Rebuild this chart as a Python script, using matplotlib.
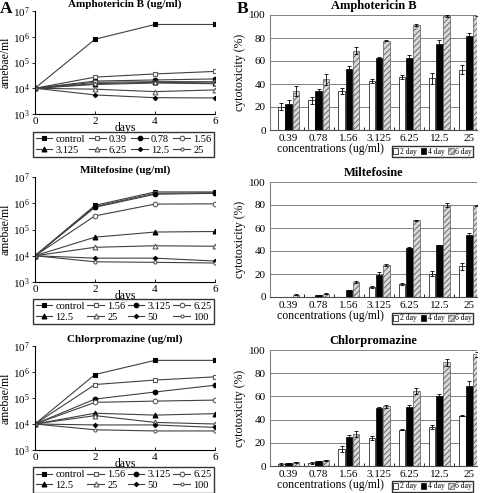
import numpy as np
import matplotlib
matplotlib.use("Agg")
import matplotlib.pyplot as plt
from matplotlib.ticker import FixedLocator, LogFormatterSciNotation

plt.rcParams['font.family'] = ['Liberation Serif', 'DejaVu Serif']
plt.rcParams['mathtext.fontset'] = 'stix'
plt.rcParams['hatch.linewidth'] = 0.6

days = [0, 2, 4, 6]

# Panel A: amebae/ml over days
ampho_labels = ['control', '0.39', '0.78', '1.56', '3.125', '6.25', '12.5', '25']
ampho_growth = [
    [1e4, 8e5, 3e6, 3e6],
    [1e4, 2.7e4, 3.6e4, 4.5e4],
    [1e4, 1.9e4, 2.1e4, 2.3e4],
    [1e4, 1.7e4, 1.8e4, 1.8e4],
    [1e4, 1.5e4, 1.7e4, 1.6e4],
    [1e4, 9.2e3, 7.4e3, 8.6e3],
    [1e4, 5.5e3, 4.3e3, 4.2e3],
    [1e4, 1.4e4, 1.6e4, 1.5e4],
]
milte_labels = ['control', '1.56', '3.125', '6.25', '12.5', '25', '50', '100']
milte_growth = [
    [1e4, 8.3e5, 2.7e6, 2.7e6],
    [1e4, 7.5e5, 2.4e6, 2.5e6],
    [1e4, 7.0e5, 2.2e6, 2.4e6],
    [1e4, 3.3e5, 9.3e5, 9.5e5],
    [1e4, 5.1e4, 8.0e4, 8.4e4],
    [1e4, 2.1e4, 2.4e4, 2.3e4],
    [1e4, 8.1e3, 8.1e3, 6.3e3],
    [1e4, 5.9e3, 5.6e3, 5.3e3],
]
chlor_labels = ['control', '1.56', '3.125', '6.25', '12.5', '25', '50', '100']
chlor_growth = [
    [1e4, 8.0e5, 2.8e6, 2.8e6],
    [1e4, 3.3e5, 4.9e5, 6.5e5],
    [1e4, 9.1e4, 1.7e5, 3.1e5],
    [1e4, 6.8e4, 7.6e4, 8.3e4],
    [1e4, 2.6e4, 2.2e4, 2.5e4],
    [1e4, 2.1e4, 1.15e4, 1.0e4],
    [1e4, 9.2e3, 9.2e3, 7.4e3],
    [1e4, 6.0e3, 5.4e3, 5.4e3],
]

# Panel B: cytotoxicity (%) per concentration
concs = ['0.39', '0.78', '1.56', '3.125', '6.25', '12.5', '25']
day_labels = ['2 day', '4 day', '6 day']
ampho_cyto = [
    [20.4, 25.9, 33.9, 42.5, 46.0, 45.0, 52.6],
    [23.0, 34.0, 53.0, 62.6, 62.6, 75.0, 82.0],
    [34.0, 44.0, 69.0, 77.6, 91.4, 99.4, 100.0],
]
ampho_err = [
    [3, 3, 3, 2, 2, 5, 3.5],
    [3, 2, 2.5, 1, 2.5, 3, 2.5],
    [4, 4.5, 3, 0.5, 1, 1, 0.5],
]
milte_cyto = [
    [0, 0, 0, 8.7, 11.6, 20.3, 26.7],
    [0, 1.5, 5.8, 18.8, 42.9, 45.0, 53.6],
    [2.0, 3.0, 13.0, 28.0, 66.7, 80.0, 79.5],
]
milte_err = [
    [0, 0, 0, 0.5, 1, 2, 3],
    [0, 0.3, 0.5, 3, 0.5, 0.5, 2],
    [0.5, 0.3, 1, 1, 0.3, 2, 0.5],
]
chlor_cyto = [
    [1.7, 2.6, 15.0, 24.2, 31.4, 33.7, 43.2],
    [2.6, 4.0, 25.0, 50.1, 51.0, 60.2, 69.2],
    [3.2, 4.9, 27.4, 51.3, 64.6, 89.3, 96.3],
]
chlor_err = [
    [0.5, 0.5, 2.5, 2, 0.5, 2, 0.5],
    [0.3, 0.3, 1.5, 1, 2, 2, 4],
    [0.3, 0.5, 2.5, 1, 2.5, 3, 2],
]

# marker styles per series (filled / open alternate)
markers = [('s', 'k', 'k', 3.3), ('s', 'w', '0.35', 3.3), ('o', 'k', 'k', 3.3), ('o', 'w', '0.35', 3.3),
           ('^', 'k', 'k', 3.5), ('^', 'w', '0.35', 3.5), ('D', 'k', 'k', 2.2), ('o', 'w', '0.35', 2.2)]

W, H = 480, 493
fig = plt.figure(figsize=(4.8, 4.93), dpi=100)


def fbox(x0, y0, x1, y1):
    return [x0 / W, 1 - y1 / H, (x1 - x0) / W, (y1 - y0) / H]


def growth_panel(rect, title, labels, data, leg_rect):
    ax = fig.add_axes(fbox(*rect))
    for (m, fc, ec, ms), lab, vals in zip(markers, labels, data):
        ax.plot(days, vals, marker=m, color='0.25', lw=0.8, ms=ms,
                markerfacecolor=fc, markeredgecolor=ec, markeredgewidth=0.8, label=lab)
    ax.set_yscale('log')
    ax.set_ylim(1e3, 1e7)
    ax.set_xlim(0, 6)
    ax.set_xticks(days)
    ax.yaxis.set_major_locator(FixedLocator([1e3, 1e4, 1e5, 1e6, 1e7]))
    ax.yaxis.set_major_formatter(LogFormatterSciNotation())
    ax.minorticks_off()
    ax.spines['top'].set_visible(False)
    ax.spines['right'].set_visible(False)
    ax.tick_params(labelsize=8, length=2.5, width=0.6, pad=1)
    ax.tick_params(axis='x', direction='in', pad=2)
    ax.set_title(title, fontsize=8, fontweight='bold', pad=3)
    ax.set_ylabel('amebae/ml', fontsize=8.5, labelpad=1)
    ax.set_xlabel('days', fontsize=8.5, labelpad=-3)
    # legend filled row by row
    h, l = ax.get_legend_handles_labels()
    order = [0, 4, 1, 5, 2, 6, 3, 7]
    x0, y0, x1, y1 = leg_rect
    ax.legend([h[i] for i in order], [l[i] for i in order],
              loc='center', bbox_to_anchor=fbox(x0, y0, x1, y1), bbox_transform=fig.transFigure,
              ncol=4, fontsize=7.5, frameon=True, fancybox=False, edgecolor='k',
              handlelength=1.6, handletextpad=0.3, columnspacing=1.0, mode='expand',
              borderpad=0.25, labelspacing=0.15, borderaxespad=0)
    return ax


def cyto_panel(rect, title, vals, errs, leg_rect):
    ax = fig.add_axes(fbox(*rect))
    x = np.arange(len(concs))
    w = 0.22
    styles = [dict(color='white', edgecolor='k'),
              dict(color='black', edgecolor='k'),
              dict(color='#d8d8d8', edgecolor='0.35', hatch='//////')]
    for i, (v, e, st) in enumerate(zip(vals, errs, styles)):
        ax.bar(x + (i - 1) * 0.24, v, w, yerr=e, lw=0.5, label=day_labels[i],
               error_kw=dict(ecolor='k', elinewidth=0.6, capsize=1.5, capthick=0.6), **st)
    ax.set_ylim(0, 100)
    ax.set_xlim(-0.62, 6.25)
    ax.set_yticks([0, 20, 40, 60, 80, 100])
    ax.set_xticks(x)
    ax.set_xticklabels(concs)
    ax.set_xticks(x[:-1] + 0.5, minor=True)
    ax.tick_params(axis='x', which='major', length=0, pad=3)
    ax.tick_params(axis='x', which='minor', direction='in', length=2, width=0.6)
    ax.tick_params(axis='y', length=0, pad=3)
    ax.tick_params(labelsize=8)
    ax.yaxis.grid(True, color='0.5', lw=0.7)
    ax.set_axisbelow(True)
    ax.spines['top'].set_visible(False)
    ax.spines['right'].set_visible(False)
    ax.spines['left'].set_color('0.5')
    ax.spines['bottom'].set_color('0.3')
    ax.set_title(title, fontsize=9, fontweight='bold', pad=4)
    ax.set_ylabel('cytotoxicity (%)', fontsize=8.5, labelpad=2)
    ax.set_xlabel('concentrations (ug/ml)', fontsize=8.5, labelpad=0, x=0.29)
    x0, y0, x1, y1 = leg_rect
    ax.legend(loc='center', bbox_to_anchor=fbox(x0, y0, x1, y1), bbox_transform=fig.transFigure,
              ncol=3, fontsize=5.5, frameon=True, fancybox=False, edgecolor='k',
              handlelength=0.7, handleheight=0.7, handletextpad=0.2, columnspacing=0.5,
              borderpad=0.15, borderaxespad=0)
    return ax


growth_panel((35, 11, 215, 114), 'Amphotericin B (ug/ml)', ampho_labels, ampho_growth, (33, 133, 214, 156))
growth_panel((35, 177, 215, 282), 'Miltefosine (ug/ml)', milte_labels, milte_growth, (33, 300, 214, 323))
growth_panel((35, 346, 215, 450), 'Chlorpromazine (ug/ml)', chlor_labels, chlor_growth, (33, 469, 214, 491))

cyto_panel((270, 15, 477, 130), 'Amphotericin B', ampho_cyto, ampho_err, (385, 147, 480, 156))
cyto_panel((270, 182, 477, 297), 'Miltefosine', milte_cyto, milte_err, (385, 314, 480, 323))
cyto_panel((270, 350, 477, 466), 'Chlorpromazine', chlor_cyto, chlor_err, (385, 482, 480, 491))

fig.text(0 / W, 1 - 1 / H, 'A', fontsize=12.5, fontweight='bold', va='top', ha='left')
fig.text(237 / W, 1 - 1 / H, 'B', fontsize=12.5, fontweight='bold', va='top', ha='left')

fig.savefig('out.png', dpi=100)
